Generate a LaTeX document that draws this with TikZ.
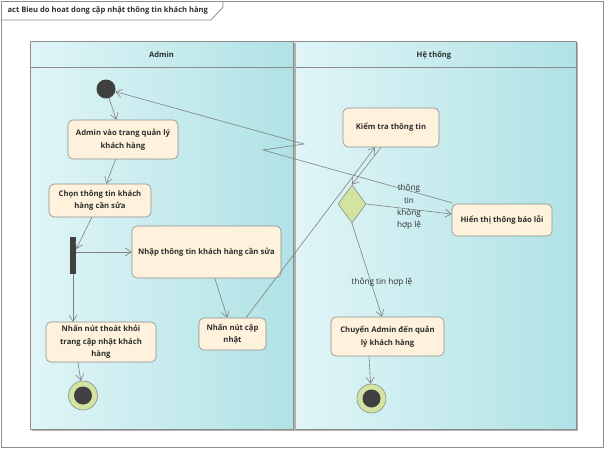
\documentclass[tikz,border=0pt]{standalone}
\usepackage{fontspec}
\setmainfont{Open Sans}
\usetikzlibrary{arrows.meta,shapes.geometric,calc}
\definecolor{lanel}{HTML}{E0F5F7}
\definecolor{laner}{HTML}{B0E2E5}
\definecolor{actfill}{HTML}{FFF2DC}
\definecolor{bord}{HTML}{8C8C8C}
\definecolor{edgec}{HTML}{808080}
\definecolor{dark}{HTML}{404040}
\definecolor{greenf}{HTML}{D3E4A2}
\definecolor{txt}{HTML}{2E2E2E}
\definecolor{shadowc}{HTML}{B0B0B0}
\begin{document}
\begin{tikzpicture}[x=1pt,y=-1pt,
  act/.style={draw=bord, fill=actfill, rounded corners=5pt, align=center,
    font=\fontsize{7.7}{12.5}\selectfont\bfseries, text=txt, inner sep=1pt, line width=0.6pt},
  flow/.style={draw=edgec, line width=0.6pt, -{Straight Barb[length=6pt,width=8pt]}},
  lbl/.style={font=\fontsize{8.2}{12.3}\selectfont, text=txt, align=center, inner sep=0.5pt},
  hdr/.style={font=\fontsize{7.6}{9}\selectfont\bfseries, text=txt},
  lanebox/.style={draw=bord, line width=0.6pt}
]
\useasboundingbox (0,0) rectangle (605,450);
\fill[white] (0,0) rectangle (605,450);
% frame
\draw[bord, line width=0.8pt] (1,1) rectangle (603,447);
\draw[bord, line width=0.8pt] (1,20) -- (211,20) -- (223,7) -- (223,1);
\node[anchor=west, hdr] (title) at (4,10.5) {act Bieu do hoat dong cập nhật thông tin khách hàng};
% lane Hệ thống
\fill[shadowc] (295,43) rectangle (578,431);
\shade[left color=lanel, right color=laner] (293,41) rectangle (576,429);
\draw[lanebox] (293,41) rectangle (576,429);
\draw[lanebox] (293,67) -- (576,67);
% lane Admin
\fill[shadowc] (32,43) rectangle (296,431);
\shade[left color=lanel, right color=laner] (30,41) rectangle (293,429);
\draw[lanebox] (30,41) rectangle (293,429);
\draw[lanebox] (30,67) -- (293,67);
\node[hdr] (hadmin) at (161.5,55) {Admin};
\node[hdr] (hsys) at (434,55) {Hệ thống};
% nodes
\node[circle, fill=dark, minimum size=19pt, inner sep=0] (init) at (106,89) {};
\node[act, minimum width=110pt, minimum height=39pt] (adminvao) at (123,139.5) {Admin vào trang quản lý\\khách hàng};
\node[act, minimum width=102pt, minimum height=33pt] (chon) at (100,200.5) {Chọn thông tin khách\\hàng cần sửa};
\node[fill=dark, minimum width=6pt, minimum height=37pt, inner sep=0] (fork) at (73,255.5) {};
\node[act, minimum width=149pt, minimum height=52pt] (nhap) at (206.5,252) {Nhập thông tin khách hàng cần sửa};
\node[act, minimum width=110pt, minimum height=40pt] (thoat) at (101,342) {Nhấn nút thoát khỏi\\trang cập nhật khách\\hàng};
\node[circle, draw=bord, fill=greenf, minimum size=29pt, inner sep=0, line width=0.6pt] (fin1) at (83,395.5) {};
\node[circle, fill=dark, minimum size=18pt, inner sep=0] (fin1in) at (fin1) {};
\node[act, minimum width=67pt, minimum height=32pt] (capnhat) at (232.5,334) {Nhấn nút cập\\nhật};
\node[act, minimum width=96pt, minimum height=39pt] (kiemtra) at (391,127.5) {Kiểm tra thông tin};
\node[diamond, draw=bord, fill=greenf, minimum width=28pt, minimum height=38pt, inner sep=0, line width=0.6pt] (dia) at (352,204) {};
\node[act, minimum width=100pt, minimum height=32pt] (hienthi) at (502,220) {Hiển thị thông báo lỗi};
\node[act, minimum width=113pt, minimum height=39pt] (chuyen) at (387.5,336.5) {Chuyển Admin đến quản\\lý khách hàng};
\node[circle, draw=bord, fill=greenf, minimum size=29pt, inner sep=0, line width=0.6pt] (fin2) at (371.5,398.5) {};
\node[circle, fill=dark, minimum size=18pt, inner sep=0] (fin2in) at (fin2) {};
% bend points
\coordinate (b1) at (263,150);
\coordinate (b2) at (304,144);
% flows
\draw[flow] (init) -- (adminvao);
\draw[flow] (adminvao) -- (chon);
\draw[flow] (chon) -- (fork);
\draw[flow] (fork.east |- nhap.west) -- (nhap.west);
\draw[flow] (fork.south) -- (fork.south |- thoat.north);
\draw[flow] ($(thoat.south)+(-23,0)$) -- (fin1);
\draw[flow] (nhap) -- (capnhat);
\draw[flow] ($(capnhat.north)+(13.5,0)$) -- ($(kiemtra.south)+(-16,0)$);
\draw[flow] ($(kiemtra.south)+(-10,0)$) -- (dia.north);
\draw[flow] (dia.east) -- node[lbl, pos=0.5, yshift=2pt] (lblko) {thông\\tin\\không\\hợp lệ} ($(hienthi.west)+(0,-6)$);
\draw[flow] ($(hienthi.north west)+(0,-1)$) -- (b1) -- (b2) -- (init);
\draw[flow] (dia.south) -- node[lbl, pos=0.63, xshift=11pt] (lblok) {thông tin hợp lệ} ($(chuyen.north)+(-5.5,0)$);
\draw[flow] ($(chuyen.south)+(-18.5,0)$) -- (fin2);
\end{tikzpicture}
\end{document}
